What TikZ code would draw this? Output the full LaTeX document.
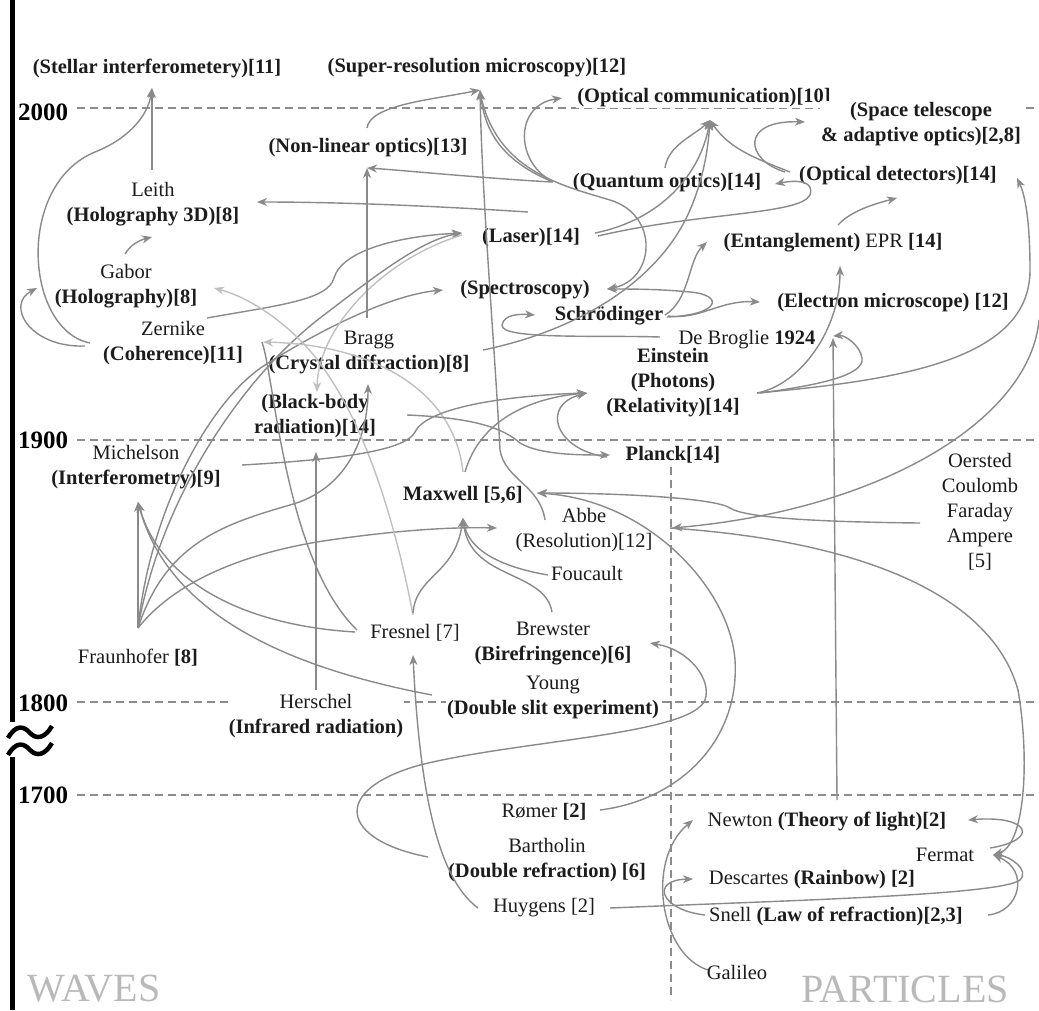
\documentclass[tikz,border=0pt]{standalone}
\usepackage{fontspec}
\setmainfont{Liberation Serif}
\usetikzlibrary{arrows.meta}
\definecolor{lc}{RGB}{138,138,138}
\definecolor{llc}{RGB}{192,192,192}
\definecolor{tc}{RGB}{28,28,28}
\definecolor{dc}{RGB}{140,140,140}
\newcommand\lblfont{\fontsize{20.5}{25}\selectfont}
\begin{document}
\begin{tikzpicture}[x=1pt,y=-1pt,
  lbl/.style={font=\lblfont,text=tc,align=center,inner sep=1pt,fill=white},
  yr/.style={font=\fontsize{25}{25}\selectfont\bfseries,text=black,inner sep=0pt},
  wv/.style={font=\fontsize{40}{40}\selectfont,text=gray!55,inner sep=0pt,anchor=base,text depth=0pt},
  dsh/.style={draw=dc,line width=1.4pt,dash pattern=on 8pt off 5pt},
  ar/.style={draw=lc,line width=1.4pt,-{Stealth[length=10pt,width=8pt,inset=3pt]}},
  arl/.style={ar,draw=llc},
  ln/.style={draw=lc,line width=1.4pt}]
\fill[white] (0,0) rectangle (1039,1010);
\useasboundingbox (0,0) rectangle (1039,1010);
% axis
\draw[line width=5pt] (12,0) -- (12,722);
\draw[line width=5pt] (12,757) -- (12,1010);
\draw[line width=4.5pt] (8,738) .. controls (16,724) and (24,726) .. (30,733) .. controls (37,740) and (45,738) .. (52,726);
\draw[line width=4.5pt] (8,755) .. controls (16,741) and (24,743) .. (30,750) .. controls (37,757) and (45,755) .. (52,743);
% time lines
\draw[dsh] (77,108) -- (1039,108);
\draw[dsh] (77,440) -- (1039,440);
\draw[dsh] (77,702) -- (1039,702);
\draw[dsh] (77,795) -- (1039,795);
\draw[dsh] (671,467) -- (671,1000);
\node[wv] (waves) at (94,1001) {WAVES};
\node[wv] (particles) at (905,1002) {PARTICLES};
% nodes
\node[lbl] (Stellar) at (157,68) {\textbf{(Stellar interferometery)[11]}};
\node[lbl] (SuperRes) at (477,68) {\textbf{(Super-resolution microscopy)[12]}};
\node[lbl] (OptComm) at (704,98) {\textbf{(Optical communication)[10]}};
\node[lbl] (SpaceTel) at (921,124) {\textbf{(Space telescope}\\\textbf{\& adaptive optics)[2,8]}};
\node[lbl] (NonLinear) at (368,148) {\textbf{(Non-linear optics)[13]}};
\node[lbl] (Quantum) at (667,183) {\textbf{(Quantum optics)[14]}};
\node[lbl] (OptDet) at (898,176) {\textbf{(Optical detectors)[14]}};
\node[lbl] (Leith) at (153,204) {Leith\\\textbf{(Holography 3D)[8]}};
\node[lbl] (Laser) at (531,238) {\textbf{(Laser)[14]}};
\node[lbl] (Entangle) at (833,243) {\textbf{(Entanglement)} EPR \textbf{[14]}};
\node[lbl] (Gabor) at (126,286) {Gabor\\\textbf{(Holography)[8]}};
\node[lbl] (Spectro) at (525,290) {\textbf{(Spectroscopy)}};
\node[lbl] (Schrod) at (609,316) {\textbf{Schrödinger}};
\node[lbl] (Electron) at (893,303) {\textbf{(Electron microscope) [12]}};
\node[lbl] (DeBroglie) at (747,340) {De Broglie \textbf{1924}};
\node[lbl] (Zernike) at (173,343) {Zernike\\\textbf{(Coherence)[11]}};
\node[lbl] (Bragg) at (369,352) {Bragg\\\textbf{(Crystal diffraction)[8]}};
\node[lbl] (Einstein) at (673,383) {\textbf{Einstein}\\\textbf{(Photons)}\\\textbf{(Relativity)[14]}};
\node[lbl] (BlackBody) at (315,416) {\textbf{(Black-body}\\\textbf{radiation)[14]}};
\node[lbl] (Michelson) at (136,467) {Michelson\\\textbf{(Interferometry)[9]}};
\node[lbl] (Planck) at (673,455) {\textbf{Planck[14]}};
\node[lbl] (Oersted) at (980,512) {Oersted\\Coulomb\\Faraday\\Ampere\\{[5]}};
\node[lbl] (Maxwell) at (463,495) {\textbf{Maxwell [5,6]}};
\node[lbl] (Abbe) at (584,530) {Abbe\\(Resolution)[12]};
\node[lbl] (Foucault) at (587,573) {Foucault};
\node[lbl] (Fraunhofer) at (138,658) {Fraunhofer \textbf{[8]}};
\node[lbl] (Fresnel) at (415,633) {Fresnel [7]};
\node[lbl] (Brewster) at (553,644) {Brewster\\\textbf{(Birefringence)[6]}};
\node[lbl] (Young) at (553,697) {Young\\\textbf{(Double slit experiment)}};
\node[lbl] (Herschel) at (316,716) {Herschel\\\textbf{(Infrared radiation)}};
\node[lbl] (Romer) at (544,812) {Rømer \textbf{[2]}};
\node[lbl] (Bartholin) at (547,860) {Bartholin\\\textbf{(Double refraction) [6]}};
\node[lbl] (Huygens) at (544,908) {Huygens [2]};
\node[lbl] (Newton) at (827,822) {Newton \textbf{(Theory of light)[2]}};
\node[lbl] (Fermat) at (945,855) {Fermat};
\node[lbl] (Descartes) at (812,880) {Descartes \textbf{(Rainbow) [2]}};
\node[lbl] (Snell) at (836,916) {Snell \textbf{(Law of refraction)[2,3]}};
\node[lbl] (Galileo) at (737,972) {Galileo};
% year labels
\node[yr] (y2000) at (43,112) {2000};
\node[yr] (y1900) at (43,440) {1900};
\node[yr] (y1800) at (43,703) {1800};
\node[yr] (y1700) at (43,795) {1700};
\coordinate (zl) at (37,288);
\coordinate (edgeR) at (1039,320);
% connectors
\draw[ar] ([shift={(-1,-34)}]Leith.center) -- ([shift={(-5,20)}]Stellar.center);
\draw[ar] ([shift={(-83,0)}]Zernike.center) .. controls (25,330) and (15,185) .. (95,152) .. controls (130,138) and (148,115) .. ([shift={(-5,20)}]Stellar.center);
\draw[ar] ([shift={(-88,3)}]Zernike.center) .. controls (30,348) and (5,305) .. (zl);
\draw[ar] ([shift={(-1,-32)}]Gabor.center) .. controls (130,245) and (140,240) .. ([shift={(-1,33)}]Leith.center);
\draw[ar] ([shift={(-3,-26)}]Laser.center) .. controls (450,207) and (350,202) .. ([shift={(104,-2)}]Leith.center);
\draw[ar] ([shift={(81,32)}]Gabor.center) .. controls (280,305) and (328,300) .. (334,278) .. controls (342,250) and (400,236) .. ([shift={(-69,-5)}]Laser.center);
\draw[ar] ([shift={(0,-30)}]Fraunhofer.center) .. controls (160,500) and (240,380) .. (320,318) .. controls (370,280) and (420,240) .. ([shift={(-69,-5)}]Laser.center);
\draw[ar] ([shift={(0,-30)}]Fraunhofer.center) .. controls (150,510) and (210,400) .. (265,365) .. controls (320,330) and (390,295) .. ([shift={(-82,0)}]Spectro.center);
\draw[ar] ([shift={(0,-30)}]Fraunhofer.center) -- ([shift={(2,35)}]Michelson.center);
\draw[ar] ([shift={(0,-30)}]Fraunhofer.center) .. controls (165,545) and (220,525) .. (290,505) .. controls (345,490) and (368,440) .. ([shift={(-1,32)}]Bragg.center);
\draw[ar] ([shift={(0,-30)}]Fraunhofer.center) .. controls (180,575) and (260,550) .. (330,540) .. controls (400,530) and (450,527) .. ([shift={(-87,-2)}]Abbe.center);
\draw[ar] ([shift={(-60,-1)}]Fresnel.center) .. controls (240,625) and (160,580) .. ([shift={(2,35)}]Michelson.center);
\draw[ar] ([shift={(-121,-2)}]Young.center) .. controls (300,670) and (170,620) .. ([shift={(2,35)}]Michelson.center);
\draw[ln] ([shift={(-58,-3)}]Fresnel.center) .. controls (285,560) and (275,380) .. ([shift={(89,-1)}]Zernike.center);
\draw[arl] ([shift={(-2,-18)}]Fresnel.center) .. controls (395,520) and (360,400) .. (300,340) .. controls (270,310) and (240,295) .. ([shift={(88,2)}]Gabor.center);
\draw[ar] ([shift={(-2,-20)}]Fresnel.center) .. controls (416,575) and (455,575) .. ([shift={(0,23)}]Maxwell.center);
\draw[ar] ([shift={(-39,2)}]Foucault.center) .. controls (490,565) and (468,545) .. ([shift={(0,23)}]Maxwell.center);
\draw[ar] ([shift={(-1,-32)}]Brewster.center) .. controls (545,570) and (470,580) .. ([shift={(0,23)}]Maxwell.center);
\draw[arl] ([shift={(0,-23)}]Maxwell.center) .. controls (455,395) and (380,345) .. ([shift={(90,-1)}]Zernike.center);
\draw[ar] ([shift={(2,-23)}]Maxwell.center) .. controls (480,420) and (530,398) .. ([shift={(-86,10)}]Einstein.center);
\draw[ar] ([shift={(106,-2)}]Michelson.center) .. controls (330,460) and (405,452) .. (415,432) .. controls (428,405) and (520,395) .. ([shift={(-86,10)}]Einstein.center);
\draw[ar] ([shift={(92,-1)}]BlackBody.center) .. controls (480,418) and (505,430) .. (520,443) .. controls (540,455) and (580,455) .. ([shift={(-63,0)}]Planck.center);
\draw[ar] ([shift={(-66,2)}]Planck.center) .. controls (555,450) and (540,405) .. ([shift={(-86,10)}]Einstein.center);
\draw[ar] ([shift={(0,-26)}]Herschel.center) -- ([shift={(1,36)}]BlackBody.center);
\draw[arl] ([shift={(-69,-3)}]Laser.center) .. controls (380,260) and (318,330) .. ([shift={(2,-24)}]BlackBody.center);
\draw[ar] ([shift={(-2,-34)}]Bragg.center) -- ([shift={(-1,20)}]NonLinear.center);
\draw[ar] ([shift={(-115,-1)}]Quantum.center) .. controls (480,178) and (400,170) .. ([shift={(-1,20)}]NonLinear.center);
\draw[ar] ([shift={(-1,-20)}]NonLinear.center) .. controls (370,105) and (430,100) .. ([shift={(3,22)}]SuperRes.center);
\draw[ar] ([shift={(-39,-10)}]Abbe.center) .. controls (540,485) and (505,480) .. (500,450) .. controls (495,350) and (482,200) .. ([shift={(3,22)}]SuperRes.center);
\draw[ar] ([shift={(-114,-1)}]Quantum.center) .. controls (500,160) and (485,130) .. ([shift={(3,22)}]SuperRes.center);
\draw[ar] ([shift={(3,24)}]SuperRes.center) .. controls (495,170) and (560,185) .. (610,200) .. controls (660,215) and (655,280) .. ([shift={(82,-1)}]Spectro.center);
\draw[ar] ([shift={(-117,-3)}]Quantum.center) .. controls (515,160) and (515,105) .. ([shift={(-142,0)}]OptComm.center);
\draw[ar] ([shift={(-2,-15)}]Quantum.center) .. controls (668,145) and (695,135) .. ([shift={(6,22)}]OptComm.center);
\draw[ar] ([shift={(-108,-4)}]OptDet.center) .. controls (760,160) and (730,150) .. ([shift={(6,22)}]OptComm.center);
\draw[ar] ([shift={(-113,-4)}]OptDet.center) .. controls (745,160) and (740,120) .. ([shift={(-116,-2)}]SpaceTel.center);
\draw[ar] ([shift={(114,-2)}]Bragg.center) .. controls (580,330) and (660,280) .. (690,210) .. controls (703,180) and (708,150) .. ([shift={(6,22)}]OptComm.center);
\draw[ar] ([shift={(64,-5)}]Laser.center) .. controls (660,220) and (700,175) .. ([shift={(6,22)}]OptComm.center);
\draw[ar] ([shift={(67,-2)}]Laser.center) .. controls (700,212) and (800,215) .. (810,195) .. controls (815,180) and (795,180) .. ([shift={(108,1)}]Quantum.center);
\draw[ar] ([shift={(5,-18)}]Entangle.center) .. controls (850,212) and (870,205) .. ([shift={(-1,22)}]OptDet.center);
\draw[ar] ([shift={(56,-1)}]Schrod.center) .. controls (690,300) and (688,260) .. ([shift={(-126,-1)}]Entangle.center);
\draw[ar] ([shift={(58,1)}]Schrod.center) .. controls (720,315) and (725,295) .. (690,292) .. controls (660,289) and (630,289) .. ([shift={(82,-1)}]Spectro.center);
\draw[ar] ([shift={(59,0)}]Schrod.center) .. controls (700,320) and (720,300) .. ([shift={(-133,-1)}]Electron.center);
\draw[ar] ([shift={(-87,-3)}]DeBroglie.center) .. controls (600,335) and (500,340) .. (502,325) .. controls (504,314) and (520,314) .. ([shift={(-74,-1)}]Schrod.center);
\draw[ar] ([shift={(84,10)}]Einstein.center) .. controls (800,385) and (840,330) .. ([shift={(7,23)}]Entangle.center);
\draw[ar] ([shift={(87,10)}]Einstein.center) .. controls (820,385) and (865,375) .. (862,358) .. controls (860,345) and (845,335) .. ([shift={(86,-4)}]DeBroglie.center);
\draw[ar] ([shift={(84,10)}]Einstein.center) .. controls (900,380) and (1030,360) .. (1030,270) .. controls (1030,220) and (1025,195) .. ([shift={(119,2)}]OptDet.center);
\draw[ar] ([shift={(10,-22)}]Newton.center) -- ([shift={(86,-2)}]DeBroglie.center);
\draw[ar] ([shift={(-60,11)}]Oersted.center) .. controls (820,522) and (745,518) .. (730,508) .. controls (715,498) and (620,493) .. ([shift={(74,-2)}]Maxwell.center);
\draw[ar] ([shift={(56,-2)}]Romer.center) .. controls (680,800) and (740,740) .. (735,660) .. controls (730,590) and (650,500) .. ([shift={(74,-2)}]Maxwell.center);
\draw[ar] ([shift={(-119,-3)}]Bartholin.center) .. controls (340,840) and (330,790) .. (420,765) .. controls (520,740) and (690,735) .. (705,700) .. controls (712,680) and (690,650) .. ([shift={(97,-1)}]Brewster.center);
\draw[ar] ([shift={(-66,0)}]Huygens.center) .. controls (440,880) and (420,800) .. ([shift={(-2,22)}]Fresnel.center);
\draw[ar] ([shift={(45,-7)}]Fermat.center) .. controls (1040,840) and (1030,815) .. ([shift={(141,-2)}]Newton.center);
\draw[ar] ([shift={(152,-1)}]Snell.center) .. controls (1020,912) and (1030,870) .. ([shift={(48,0)}]Fermat.center);
\draw[ar] ([shift={(66,0)}]Huygens.center) .. controls (800,900) and (1000,895) .. (1020,880) .. controls (1030,870) and (1010,856) .. ([shift={(48,0)}]Fermat.center);
\draw[ar] ([shift={(86,-2)}]Abbe.center) .. controls (850,540) and (990,590) .. (1018,690) .. controls (1030,760) and (1025,845) .. ([shift={(48,0)}]Fermat.center);
\draw[ar] (edgeR) .. controls (1030,420) and (880,510) .. ([shift={(88,-2)}]Abbe.center);
\draw[ar] ([shift={(-29,-2)}]Galileo.center) .. controls (660,955) and (645,860) .. ([shift={(-134,-2)}]Newton.center);
\draw[ar] ([shift={(-131,-1)}]Snell.center) .. controls (660,910) and (650,880) .. ([shift={(-119,-1)}]Descartes.center);
\end{tikzpicture}
\end{document}
